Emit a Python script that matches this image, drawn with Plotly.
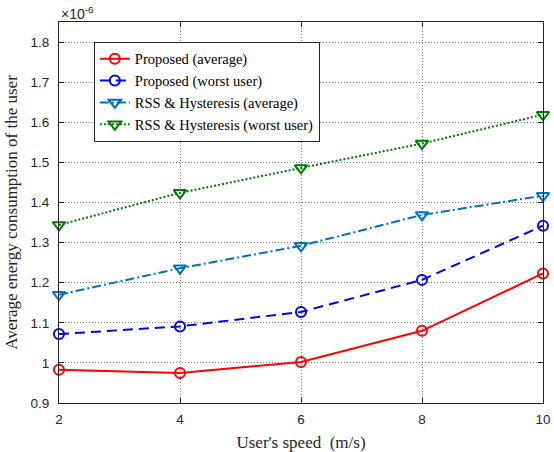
import plotly.graph_objects as go

speeds = [2, 4, 6, 8, 10]
proposed_avg = [0.983, 0.975, 1.002, 1.080, 1.223]
proposed_worst = [1.072, 1.091, 1.127, 1.207, 1.342]
rss_avg = [1.170, 1.236, 1.292, 1.369, 1.417]
rss_worst = [1.344, 1.424, 1.486, 1.547, 1.619]
y_ticks = [0.9, 1.0, 1.1, 1.2, 1.3, 1.4, 1.5, 1.6, 1.7, 1.8]
y_tick_text = ["0.9", "1", "1.1", "1.2", "1.3", "1.4", "1.5", "1.6", "1.7", "1.8"]
x_ticks = [2, 4, 6, 8, 10]

fig = go.Figure()
series = [
    ("Proposed (average)", proposed_avg, "#ff0000", "solid", "circle-open", 10),
    ("Proposed (worst user)", proposed_worst, "#0000ff", "10px,6px", "circle-open", 10),
    ("RSS & Hysteresis (average)", rss_avg, "#0072bd", "9px,3px,2px,3px", "triangle-down-open", 11),
    ("RSS & Hysteresis (worst user)", rss_worst, "#007a00", "2px,2px", "triangle-down-open", 11),
]
for name, ys, col, dash, sym, ms in series:
    fig.add_trace(go.Scatter(
        x=speeds, y=ys, name=name, mode="lines+markers",
        line=dict(color=col, width=2, dash=dash),
        marker=dict(symbol=sym, size=ms, color=col, line=dict(width=2, color=col)),
        cliponaxis=False,
    ))

axis_common = dict(
    showline=True, linecolor="#262626", linewidth=1, mirror="ticks",
    ticks="inside", ticklen=5, tickcolor="#262626",
    showgrid=True, gridcolor="#7a7a7a", griddash="1px,2px", gridwidth=1,
    zeroline=False, automargin=False,
    tickfont=dict(family="Liberation Sans, Arial", size=13.5, color="#262626"),
)

fig.update_xaxes(
    range=[2, 10], tickvals=x_ticks, ticklabelstandoff=4,
    title=dict(text="User's speed  (m/s)", font=dict(family="Liberation Serif, Times New Roman", size=17, color="#262626"), standoff=9),
    **axis_common,
)
fig.update_yaxes(
    range=[0.9, 1.85], tickvals=y_ticks, ticktext=y_tick_text, ticklabelstandoff=6,
    title=dict(text="Average energy consumption of the user", font=dict(family="Liberation Serif, Times New Roman", size=17, color="#262626"), standoff=8),
    **axis_common,
)

fig.add_annotation(
    text="×10<sup>-6</sup>", xref="paper", yref="paper", x=0.0, y=1.0,
    xanchor="left", yanchor="bottom", showarrow=False, yshift=-2,
    font=dict(family="Liberation Sans, Arial", size=14, color="#262626"),
)

fig.update_layout(
    width=554, height=452,
    margin=dict(l=59, r=11, t=22, b=49),
    paper_bgcolor="white", plot_bgcolor="white",
    showlegend=True,
    legend=dict(
        x=0.072, y=0.948, xanchor="left", yanchor="top",
        bgcolor="white", bordercolor="#262626", borderwidth=1,
        font=dict(family="Liberation Serif, Times New Roman", size=14.5, color="#000000"),
        tracegroupgap=0, itemwidth=30,
    ),
)

fig.write_html("out.html", config={"displayModeBar": False})
with open("out.html", "r", encoding="utf-8") as f:
    html = f.read()
html = html.replace("<head>", "<head><style>html,body{margin:0;padding:0;overflow:hidden;}</style>", 1)
with open("out.html", "w", encoding="utf-8") as f:
    f.write(html)
